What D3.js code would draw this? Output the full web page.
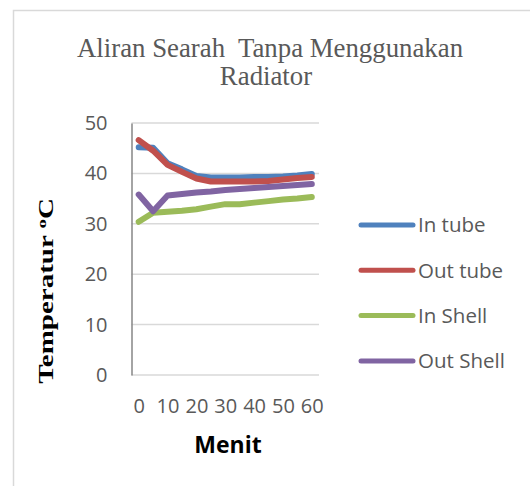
<!DOCTYPE html>
<html><head><meta charset="utf-8">
<script src="https://cdn.jsdelivr.net/npm/d3@7"></script>
<style>body{margin:0;background:#fff}svg{display:block}</style>
</head><body>
<svg id="c" width="530" height="486"></svg>
<script>
const minutes = [0,5,10,15,20,25,30,35,40,45,50,55,60];
const xTickLabels = [0,10,20,30,40,50,60];
const yTicks = [0,10,20,30,40,50];
const inTube   = [45.2,45.1,42.0,40.8,39.5,39.2,39.2,39.2,39.3,39.3,39.4,39.6,39.9];
const outTube  = [46.6,44.5,41.7,40.3,39.0,38.4,38.4,38.4,38.4,38.5,38.8,39.1,39.3];
const inShell  = [30.4,32.2,32.4,32.6,32.9,33.4,33.9,33.9,34.2,34.5,34.8,35.0,35.3];
const outShell = [35.8,32.5,35.6,35.9,36.2,36.4,36.7,36.9,37.1,37.3,37.5,37.7,37.9];
const seriesNames = ["In tube","Out tube","In Shell","Out Shell"];
const seriesValues = [inTube,outTube,inShell,outShell];
const colors = ["#4F81BD","#C0504D","#9BBB59","#8064A2"];

const svg = d3.select("#c");
// frame
svg.append("rect").attr("x",13.5).attr("y",10.5).attr("width",600).attr("height",600)
  .attr("fill","none").attr("stroke","#d9d9d9").attr("stroke-width",1.5);

const L=131.5, R=319, T=123, B=375;
const x = d3.scalePoint().domain(minutes).range([L,R]).padding(0.5);
const y = d3.scaleLinear().domain([0,50]).range([B,T]);

// title
const title = svg.append("text").attr("text-anchor","middle")
  .attr("font-family","'Liberation Serif','Times New Roman',serif").attr("font-size",26.8).attr("fill","#595959");
title.append("tspan").attr("x",270).attr("y",57).text("Aliran Searah\u00a0 Tanpa Menggunakan");
title.append("tspan").attr("x",266).attr("y",85).text("Radiator");

// gridlines
svg.append("g").selectAll("line").data(yTicks).join("line")
  .attr("x1",L).attr("x2",R).attr("y1",d=>y(d)).attr("y2",d=>y(d))
  .attr("stroke","#d9d9d9").attr("stroke-width",1.5);

// y axis
const yAxis = svg.append("g").attr("transform",`translate(${L},0)`)
  .call(d3.axisLeft(y).tickValues(yTicks).tickSize(0).tickPadding(24));
yAxis.select(".domain").attr("stroke","#868686").attr("stroke-width",1.5);
yAxis.selectAll("text").attr("font-family","'Open Sans',sans-serif").attr("font-size",20).attr("fill","#595959");

// x axis
const xAxis = svg.append("g").attr("transform",`translate(0,${B})`)
  .call(d3.axisBottom(x).tickValues(xTickLabels).tickSize(0).tickPadding(24));
xAxis.select(".domain").remove();
xAxis.selectAll("text").attr("font-family","'Open Sans',sans-serif").attr("font-size",20).attr("fill","#595959");

// lines
const line = d3.line().x((d,i)=>x(minutes[i])).y(d=>y(d));
seriesValues.forEach((vals,k)=>{
  svg.append("path").datum(vals).attr("d",line).attr("fill","none")
    .attr("stroke",colors[k]).attr("stroke-width",6)
    .attr("stroke-linejoin","round").attr("stroke-linecap","round");
});

// axis titles
svg.append("text").attr("transform","translate(53,291) rotate(-90) scale(1.45,1)")
  .attr("text-anchor","middle").attr("font-family","'Liberation Serif','Times New Roman',serif")
  .attr("font-weight","bold").attr("font-size",20).attr("fill","#000")
  .call(t=>{t.append("tspan").text("Temperatur ");
            t.append("tspan").attr("font-size",13).attr("dy",-7).text("o");
            t.append("tspan").attr("dy",7).text("C");});
svg.append("text").attr("x",228).attr("y",453).attr("text-anchor","middle")
  .attr("font-family","'Open Sans',sans-serif").attr("font-weight","bold").attr("font-size",23)
  .attr("fill","#000").text("Menit");

// legend
const lg = svg.append("g");
seriesNames.forEach((n,k)=>{
  const yy = 225 + k*45.3;
  lg.append("line").attr("x1",361).attr("x2",413).attr("y1",yy).attr("y2",yy)
    .attr("stroke",colors[k]).attr("stroke-width",5).attr("stroke-linecap","round");
  lg.append("text").attr("x",418).attr("y",yy).attr("dy","0.36em")
    .attr("font-family","'Open Sans',sans-serif").attr("font-size",20.5).attr("fill","#595959").text(n);
});
</script>
</body></html>
